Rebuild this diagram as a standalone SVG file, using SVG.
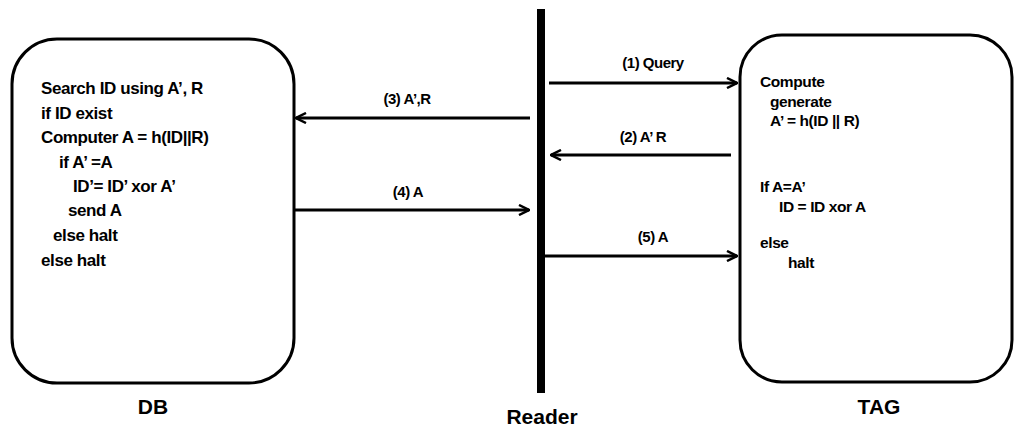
<svg xmlns="http://www.w3.org/2000/svg" width="1014" height="436" viewBox="0 0 1014 436">
<defs>
<style>
.box{fill:#fff;stroke:#000;stroke-width:3}
.t{font-family:"Liberation Sans",Arial,sans-serif;font-weight:bold;fill:#000}
.db{font-size:17px;letter-spacing:-0.4px}
.tag{font-size:15.5px;letter-spacing:-0.4px}
.lbl{font-size:15px;letter-spacing:-0.5px}
.title{font-size:21px}
.c{stroke:#000;stroke-width:3;fill:none}
</style>
<marker id="ah" viewBox="0 0 12 12" refX="11" refY="6" markerWidth="12" markerHeight="12" markerUnits="userSpaceOnUse" orient="auto">
<path d="M1,1 L11,6 L1,11" fill="none" stroke="#000" stroke-width="2.5"/>
</marker>
</defs>
<rect width="1014" height="436" fill="#fff"/>
<g id="db">
<rect class="box" x="12" y="39" width="282" height="344" rx="45" ry="45"/>
<text class="t db" x="41" y="94">Search ID using A’, R</text>
<text class="t db" x="41" y="119">if ID exist</text>
<text class="t db" x="41" y="143">Computer A = h(ID||R)</text>
<text class="t db" x="59" y="168">if A’ =A</text>
<text class="t db" x="73" y="192">ID’= ID’ xor A’</text>
<text class="t db" x="68" y="216">send A</text>
<text class="t db" x="53" y="241">else  halt</text>
<text class="t db" x="41" y="266">else halt</text>
<text class="t title" x="153" y="414" text-anchor="middle">DB</text>
</g>
<g id="reader">
<rect x="537" y="9" width="8" height="384" fill="#000"/>
<text class="t title" x="542" y="424" text-anchor="middle">Reader</text>
</g>
<g id="tag">
<rect class="box" x="740" y="35" width="272" height="347" rx="42" ry="42"/>
<text class="t tag" x="760" y="87">Compute</text>
<text class="t tag" x="770" y="107">generate</text>
<text class="t tag" x="770" y="126">A’ = h(ID || R)</text>
<text class="t tag" x="760" y="192">If A=A’</text>
<text class="t tag" x="779" y="212">ID = ID xor A</text>
<text class="t tag" x="760" y="248">else</text>
<text class="t tag" x="788" y="268">halt</text>
<text class="t title" x="879" y="414" text-anchor="middle">TAG</text>
</g>
<g id="connectors">
<line class="c" x1="549" y1="83" x2="737" y2="83" marker-end="url(#ah)"/>
<text class="t lbl" x="653" y="68" text-anchor="middle">(1) Query</text>
<line class="c" x1="530" y1="118" x2="296" y2="118" marker-end="url(#ah)"/>
<text class="t lbl" x="407" y="104" text-anchor="middle">(3) A’,R</text>
<line class="c" x1="731" y1="155" x2="551" y2="155" marker-end="url(#ah)"/>
<text class="t lbl" x="643" y="142" text-anchor="middle">(2) A’ R</text>
<line class="c" x1="295" y1="210" x2="529" y2="210" marker-end="url(#ah)"/>
<text class="t lbl" x="408" y="197" text-anchor="middle">(4) A</text>
<line class="c" x1="545" y1="256" x2="737" y2="256" marker-end="url(#ah)"/>
<text class="t lbl" x="653" y="242" text-anchor="middle">(5) A</text>
</g>
</svg>
